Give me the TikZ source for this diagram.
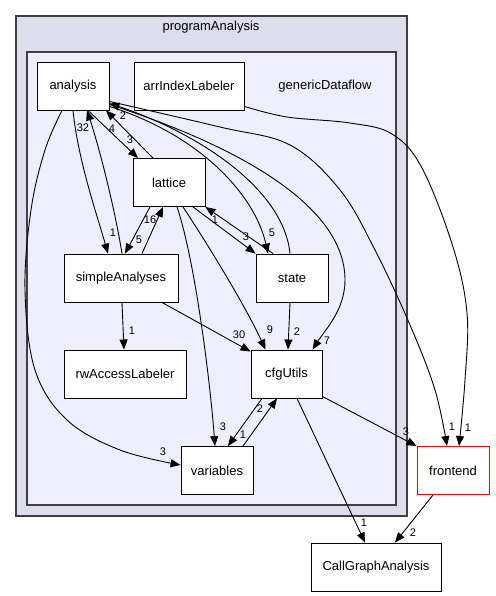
\documentclass[tikz,border=0pt]{standalone}
\usepackage{fontspec}
\setmainfont{Liberation Sans}
\usetikzlibrary{arrows.meta}
\definecolor{outerfill}{HTML}{DDDDEE}
\definecolor{innerfill}{HTML}{EEEEFF}
\definecolor{clborder}{HTML}{404040}
\tikzset{
  box/.style={draw=black, fill=white, line width=0.9pt, minimum width=72pt, minimum height=48pt, inner sep=0pt, font=\fontsize{13}{15}\selectfont},
  redbox/.style={box, draw=red},
  edge/.style={line width=0.9pt, -{Triangle[length=10pt,width=8pt]}},
  lbl/.style={inner sep=0pt, font=\fontsize{11}{13}\selectfont},
  cltext/.style={inner sep=0pt, font=\fontsize{13}{15}\selectfont}
}
\begin{document}
\begin{tikzpicture}[x=1pt,y=-1pt]
\useasboundingbox (0,0) rectangle (495,596);
% clusters
\filldraw[fill=outerfill, draw=clborder, line width=1.2pt] (16,16) rectangle (407,516);
\node[cltext] (tprog) at (211,27) {programAnalysis};
\filldraw[fill=innerfill, draw=clborder, line width=1.2pt] (27,52) rectangle (396,505);
\node[cltext] (tgen) at (325,86) {genericDataflow};
% nodes
\node[box] (analysis) at (73,86) {analysis};
\node[box, minimum width=110pt] (arrIndexLabeler) at (189,86) {arrIndexLabeler};
\node[box] (lattice) at (169,182.5) {lattice};
\node[box, minimum width=114pt] (simpleAnalyses) at (121,278) {simpleAnalyses};
\node[box] (state) at (292,278) {state};
\node[box, minimum width=122pt] (rwAccessLabeler) at (125,374) {rwAccessLabeler};
\node[box, minimum width=71pt] (cfgUtils) at (286.5,374) {cfgUtils};
\node[box] (variables) at (217,470.5) {variables};
\node[redbox] (frontend) at (453,470.5) {frontend};
\node[box, minimum width=130pt] (CallGraphAnalysis) at (376,567) {CallGraphAnalysis};
% edges
\draw[edge] ([xshift=15]analysis.south) -- ([xshift=-31]lattice.north);
\node[lbl] (l1) at (130,140) {3};
\draw[edge] ([xshift=-16]lattice.north) -- ([xshift=33]analysis.south);
\node[lbl] (l2) at (112,129) {4};
\draw[edge] (analysis.south) .. controls (78,160) and (97,215) .. ([xshift=-13]simpleAnalyses.north);
\node[lbl] (l3) at (113,233) {1};
\draw[edge] ([xshift=1]simpleAnalyses.north) .. controls (115,210) and (100,150) .. ([xshift=14]analysis.south);
\node[lbl] (l4) at (83,128) {32};
\draw[edge] ([xshift=-19]lattice.south) -- ([xshift=4]simpleAnalyses.north);
\node[lbl] (l5) at (139,240) {5};
\draw[edge] ([xshift=21]simpleAnalyses.north) -- ([xshift=-6]lattice.south);
\node[lbl] (l6) at (150,220) {16};
\draw[edge] ([xshift=24]lattice.south) -- (state.north west);
\node[lbl] (l7) at (246,237) {3};
\draw[edge] ([xshift=-19]state.north) -- (lattice.south east);
\node[lbl] (l8) at (215,220) {1};
\draw[edge] ([yshift=4]analysis.south east) .. controls (200,135) and (255,195) .. ([xshift=-24]state.north);
\node[lbl] (l9) at (272,233) {5};
\draw[edge] ([xshift=-2]state.north) .. controls (283,185) and (190,130) .. ([yshift=7]analysis.south east);
\node[lbl] (l10) at (123,116) {2};
\draw[edge] ([yshift=6]analysis.south east) .. controls (250,150) and (345,210) .. (345,280) .. controls (345,310) and (325,330) .. ([xshift=26]cfgUtils.north);
\node[lbl] (l11) at (327,341) {7};
\draw[edge] plot[smooth, tension=0.6] coordinates {([yshift=9]analysis.south east) (220,127) (290,145) (340,190) (375,250) (410,325) (435,390) ([xshift=-6]frontend.north)};
\node[lbl] (l12) at (452,427) {1};
\draw[edge] plot[smooth, tension=0.6] coordinates {([yshift=4]arrIndexLabeler.south east) (287,117) (350,123) (392,134) (422,168) (453,247) (467,313) (465,380) ([xshift=6]frontend.north)};
\node[lbl] (l13) at (468,428) {1};
\draw[edge] plot[smooth, tension=0.6] coordinates {([xshift=-11]analysis.south) (45,150) (31,210) (25,290) (35,370) (67,420) (120,450) ([yshift=5.5]variables.west)};
\node[lbl] (l14) at (163,452) {3};
\draw[edge] ([xshift=8]lattice.south) .. controls (195,260) and (210,380) .. ([xshift=-2]variables.north);
\node[lbl] (l15) at (223,427) {3};
\draw[edge] ([xshift=14]lattice.south) .. controls (205,240) and (245,305) .. ([xshift=-21]cfgUtils.north);
\node[lbl] (l16) at (270,330) {9};
\draw[edge] ([xshift=41]simpleAnalyses.south) -- ([yshift=-2]cfgUtils.north west);
\node[lbl] (l17) at (239,335) {30};
\draw[edge] ([xshift=1]simpleAnalyses.south) -- ([xshift=-1]rwAccessLabeler.north);
\node[lbl] (l18) at (132,331) {1};
\draw[edge] ([xshift=-2]state.south) -- ([xshift=1.5]cfgUtils.north);
\node[lbl] (l19) at (297,332) {2};
\draw[edge] ([xshift=-24.5]cfgUtils.south) -- ([xshift=11]variables.north);
\node[lbl] (l20) at (260,409) {2};
\draw[edge] ([xshift=26]variables.north) -- ([xshift=-9.5]cfgUtils.south);
\node[lbl] (l21) at (243,435) {1};
\draw[edge] ([yshift=2]cfgUtils.south east) -- (frontend.north west);
\node[lbl] (l22) at (406,432) {3};
\draw[edge] ([xshift=10.5]cfgUtils.south) -- ([xshift=-11]CallGraphAnalysis.north);
\node[lbl] (l23) at (364,523) {1};
\draw[edge] ([xshift=-20]frontend.south) -- ([xshift=19]CallGraphAnalysis.north);
\node[lbl] (l24) at (413,533) {2};
\end{tikzpicture}
\end{document}
